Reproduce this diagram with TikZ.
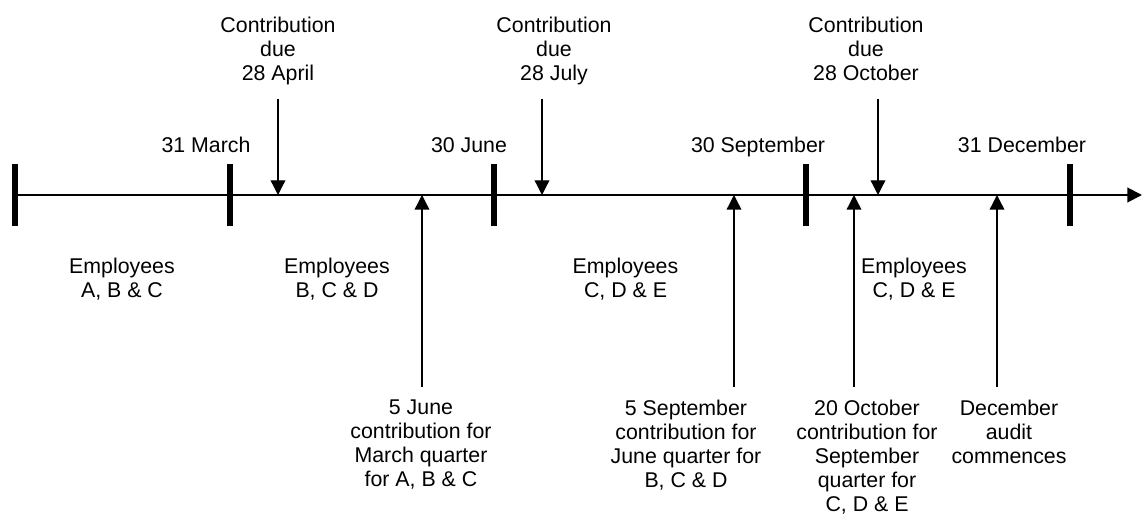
\documentclass[tikz,border=0pt]{standalone}
\usepackage{fontspec}
\setmainfont{Liberation Sans}
\usetikzlibrary{arrows.meta}
\begin{document}
\begin{tikzpicture}[x=0.75pt,y=-0.75pt,
  lbl/.style={inner sep=0pt,align=center,font=\fontsize{16}{18}\selectfont},
  axisline/.style={line width=1.5pt,-{Triangle[length=11pt,width=11pt]}},
  tickmark/.style={line width=4pt},
  evarrow/.style={line width=1pt,-{Triangle[length=11pt,width=11pt]}}]
\useasboundingbox (0,0) rectangle (1143,516);
% axis
\coordinate (L) at (15,195);
\coordinate (R) at (1142,195);
\draw[axisline] (L) -- (R);
% ticks
\foreach \n/\x in {t0/15,t1/230,t2/494,t3/806,t4/1070}{
  \coordinate (\n) at (\x,195);
  \draw[tickmark] ([yshift=23.5]\n) -- ([yshift=-23.5]\n);
}
% event points on the axis
\coordinate (apr) at (278,195);
\coordinate (jul) at (542,195);
\coordinate (oct) at (878,195);
\coordinate (jun5) at (422,195);
\coordinate (sep5) at (734,195);
\coordinate (oct20) at (854,195);
\coordinate (dec) at (997,195);
\coordinate (TopEnd) at (0,99);
\coordinate (BotEnd) at (0,387);
% date labels
\node[lbl,anchor=base] (d1) at (206,153) {31 March};
\node[lbl,anchor=base] (d2) at (469,153) {30 June};
\node[lbl,anchor=base] (d3) at (758,153) {30 September};
\node[lbl,anchor=base] (d4) at (1022,153) {31 December};
% employees
\node[lbl,anchor=north] (e1) at (122,257.7) {Employees\\A, B \& C};
\node[lbl,anchor=north] (e2) at (337,257.7) {Employees\\B, C \& D};
\node[lbl,anchor=north] (e3) at (625.5,257.7) {Employees\\C, D \& E};
\node[lbl,anchor=north] (e4) at (914,257.7) {Employees\\C, D \& E};
% top labels
\node[lbl,anchor=north] (c1) at (278,16.7) {Contribution\\due\\28 April};
\node[lbl,anchor=north] (c2) at (554,16.7) {Contribution\\due\\28 July};
\node[lbl,anchor=north] (c3) at (866,16.7) {Contribution\\due\\28 October};
\draw[evarrow] (apr |- TopEnd) -- (apr);
\draw[evarrow] (jul |- TopEnd) -- (jul);
\draw[evarrow] (oct |- TopEnd) -- (oct);
% bottom labels
\node[lbl,anchor=north] (b1) at (421,400) {5 June\\contribution for\\March quarter\\for A, B \& C};
\node[lbl,anchor=north] (b2) at (686,400) {5 September\\contribution for\\June quarter for\\B, C \& D};
\node[lbl,anchor=north] (b3) at (867,400) {20 October\\contribution for\\September\\quarter for\\C, D \& E};
\node[lbl,anchor=north] (b4) at (1009,400) {December\\audit\\commences};
\draw[evarrow] (jun5 |- BotEnd) -- (jun5);
\draw[evarrow] (sep5 |- BotEnd) -- (sep5);
\draw[evarrow] (oct20 |- BotEnd) -- (oct20);
\draw[evarrow] (dec |- BotEnd) -- (dec);
\end{tikzpicture}
\end{document}
